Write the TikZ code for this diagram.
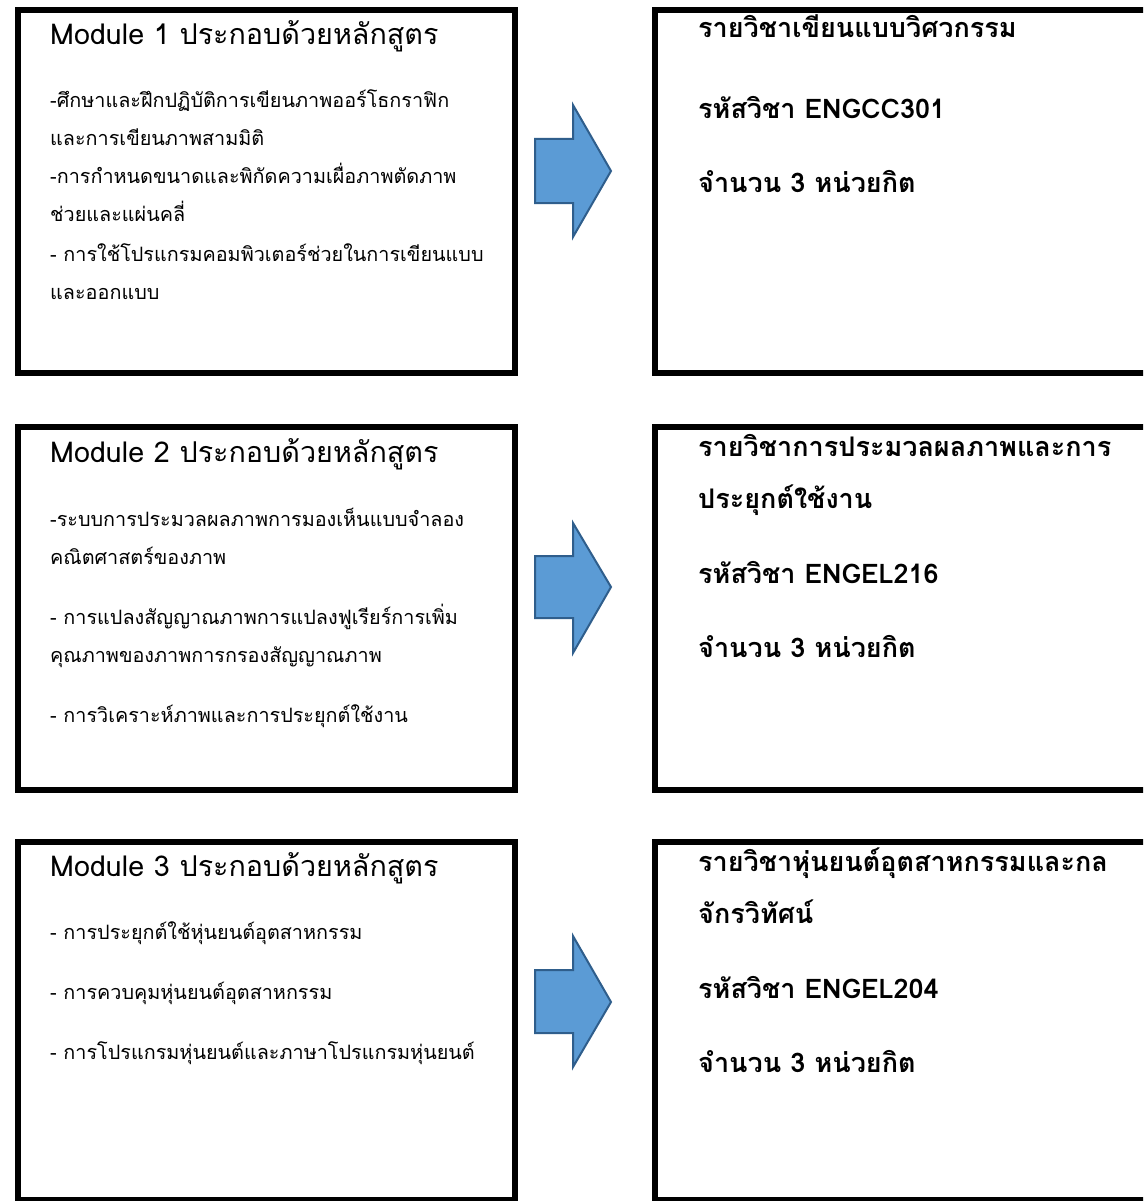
\documentclass[tikz,border=0pt]{standalone}
\usepackage{fontspec}
\setmainfont[Script=Thai]{Loma}
\newfontfamily\thaifont[Script=Thai]{Loma}
\definecolor{arrowfill}{HTML}{5B9BD5}
\definecolor{arrowline}{HTML}{2F5E8C}
\begin{document}
\begin{tikzpicture}[x=1pt,y=-1pt,
  box/.style={draw=black, line width=6pt, fill=white, inner sep=0pt, rectangle},
  ttl/.style={anchor=base west, inner sep=0pt, font=\thaifont\fontsize{28.7}{32}\selectfont},
  bodytxt/.style={anchor=base west, inner sep=0pt, font=\thaifont\fontsize{19.8}{24}\selectfont},
  rtxt/.style={anchor=base west, inner sep=0pt, font=\thaifont\bfseries\fontsize{27}{31}\selectfont},
  blockarrow/.style={fill=arrowfill, draw=arrowline, line width=2pt, line join=miter}]
\path[use as bounding box, clip] (0,0) rectangle (1143,1201);
\fill[white] (0,0) rectangle (1143,1201);

% boxes
\node[box, minimum width=497pt, minimum height=363pt, anchor=north west] (L1) at (15,7) {};
\node[box, minimum width=497pt, minimum height=363pt, anchor=north west] (L2) at (15,424) {};
\node[box, minimum width=497pt, minimum height=358pt, anchor=north west] (L3) at (15,839) {};
\node[box, minimum width=510pt, minimum height=363pt, anchor=north west] (R1) at (652,7) {};
\node[box, minimum width=510pt, minimum height=363pt, anchor=north west] (R2) at (652,424) {};
\node[box, minimum width=510pt, minimum height=358pt, anchor=north west] (R3) at (652,839) {};

% arrows
\draw[blockarrow] (535,139) -- (573,139) -- (573,105) -- (611,171) -- (573,237) -- (573,203) -- (535,203) -- cycle;
\draw[blockarrow] (535,556) -- (573,556) -- (573,523) -- (611,587) -- (573,653) -- (573,618) -- (535,618) -- cycle;
\draw[blockarrow] (535,970) -- (573,970) -- (573,936) -- (611,1002) -- (573,1067) -- (573,1033) -- (535,1033) -- cycle;

% row 1 left
\node[ttl] (t1) at (50,45) {Module 1 ประกอบด้วยหลักสูตร};
\node[bodytxt] (a1) at (50,108) {-ศึกษาและฝึกปฏิบัติการเขียนภาพออร์โธกราฟิก};
\node[bodytxt] (a2) at (50,146) {และการเขียนภาพสามมิติ};
\node[bodytxt] (a3) at (50,184) {-การกำหนดขนาดและพิกัดความเผื่อภาพตัดภาพ};
\node[bodytxt] (a4) at (50,222) {ช่วยและแผ่นคลี่};
\node[bodytxt] (a5) at (50,261) {- การใช้โปรแกรมคอมพิวเตอร์ช่วยในการเขียนแบบ};
\node[bodytxt] (a6) at (50,299) {และออกแบบ};

% row 1 right
\node[rtxt] (r11) at (698,38) {รายวิชาเขียนแบบวิศวกรรม};
\node[rtxt] (r12) at (698,119) {รหัสวิชา ENGCC301};
\node[rtxt] (r13) at (698,193) {จำนวน 3 หน่วยกิต};

% row 2 left
\node[ttl] (t2) at (50,462) {Module 2 ประกอบด้วยหลักสูตร};
\node[bodytxt] (b1) at (50,526) {-ระบบการประมวลผลภาพการมองเห็นแบบจำลอง};
\node[bodytxt] (b2) at (50,564) {คณิตศาสตร์ของภาพ};
\node[bodytxt] (b3) at (50,624) {- การแปลงสัญญาณภาพการแปลงฟูเรียร์การเพิ่ม};
\node[bodytxt] (b4) at (50,662) {คุณภาพของภาพการกรองสัญญาณภาพ};
\node[bodytxt] (b5) at (50,722) {- การวิเคราะห์ภาพและการประยุกต์ใช้งาน};

% row 2 right
\node[rtxt] (r21) at (698,456) {รายวิชาการประมวลผลภาพและการ};
\node[rtxt] (r22) at (698,508) {ประยุกต์ใช้งาน};
\node[rtxt] (r23) at (698,583) {รหัสวิชา ENGEL216};
\node[rtxt] (r24) at (698,657) {จำนวน 3 หน่วยกิต};

% row 3 left
\node[ttl] (t3) at (50,876) {Module 3 ประกอบด้วยหลักสูตร};
\node[bodytxt] (c1) at (50,939) {- การประยุกต์ใช้หุ่นยนต์อุตสาหกรรม};
\node[bodytxt] (c2) at (50,999) {- การควบคุมหุ่นยนต์อุตสาหกรรม};
\node[bodytxt] (c3) at (50,1059) {- การโปรแกรมหุ่นยนต์และภาษาโปรแกรมหุ่นยนต์};

% row 3 right
\node[rtxt] (r31) at (698,871) {รายวิชาหุ่นยนต์อุตสาหกรรมและกล};
\node[rtxt] (r32) at (698,923) {จักรวิทัศน์};
\node[rtxt] (r33) at (698,998) {รหัสวิชา ENGEL204};
\node[rtxt] (r34) at (698,1072) {จำนวน 3 หน่วยกิต};
\end{tikzpicture}
\end{document}
